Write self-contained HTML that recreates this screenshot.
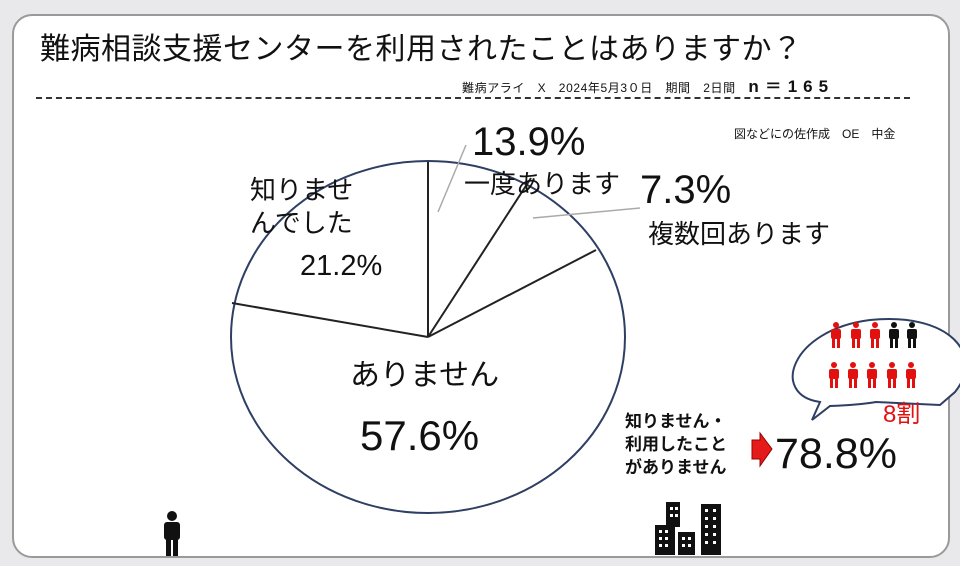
<!DOCTYPE html>
<html><head><meta charset="utf-8"><style>
body{margin:0;width:960px;height:566px;background:#e9e9ec;position:relative;overflow:hidden;font-family:"Liberation Sans","Noto Sans CJK JP",sans-serif;}
.p{position:absolute;left:12px;top:14px;width:934px;height:540px;background:#fff;border:2px solid #9a9a9a;border-radius:20px;}
.t{position:absolute;white-space:nowrap;color:#111;}
</style></head><body>
<div class="p"></div>
<div class="t" style="left:40px;top:24px;font-size:30px;letter-spacing:0.5px;">難病相談支援センターを利用されたことはありますか？</div>
<div class="t" style="left:462px;top:72px;font-size:12px;letter-spacing:0.6px;">難病アライ　X　2024年5月3０日　期間　2日間　<b style="font-size:17px;letter-spacing:6px">n＝165</b></div>
<div style="position:absolute;left:36px;top:97px;width:874px;border-top:2px dashed #333;"></div>
<div class="t" style="left:734px;top:125px;font-size:12px;">図などにの佐作成　OE　中金</div>
<svg width="960" height="566" style="position:absolute;left:0;top:0">
<ellipse cx="428" cy="337" rx="197" ry="176" fill="none" stroke="#2e3f63" stroke-width="2"/>
<g stroke="#222" stroke-width="2">
<line x1="428" y1="337" x2="428" y2="162"/>
<line x1="428" y1="337" x2="531" y2="178"/>
<line x1="428" y1="337" x2="596" y2="250"/>
<line x1="428" y1="337" x2="232" y2="303"/>
</g>
<g stroke="#aaa" stroke-width="1.5">
<line x1="438" y1="212" x2="466" y2="145"/>
<line x1="533" y1="218" x2="640" y2="208"/>
</g>
<path d="M820 402 C770 395 790 330 870 320 C950 312 985 355 955 392 L940 405 L876 402 Q858 405 830 406 L812 420 Z" fill="#fff" stroke="#2e3f63" stroke-width="2"/>
<path d="M752 440 L760 440 L760 433 L772 449 L760 466 L760 459 L752 459 Z" fill="#e51b1b" stroke="#900" stroke-width="1"/>
<g fill="#111">
<circle cx="172" cy="516" r="5"/><rect x="164" y="522" width="16" height="18" rx="3"/><rect x="166" y="538" width="5" height="18"/><rect x="173" y="538" width="5" height="18"/>
<rect x="655" y="525" width="20" height="30"/><rect x="666" y="502" width="14" height="25"/><rect x="678" y="532" width="17" height="23"/><rect x="701" y="504" width="20" height="51"/>
</g>
<g fill="#fff">
<rect x="670" y="507" width="3" height="3"/><rect x="675" y="507" width="3" height="3"/><rect x="670" y="514" width="3" height="3"/><rect x="675" y="514" width="3" height="3"/>
<rect x="659" y="530" width="3" height="3"/><rect x="665" y="530" width="3" height="3"/><rect x="659" y="537" width="3" height="3"/><rect x="665" y="537" width="3" height="3"/><rect x="659" y="544" width="3" height="3"/><rect x="665" y="544" width="3" height="3"/>
<rect x="682" y="537" width="3" height="3"/><rect x="688" y="537" width="3" height="3"/><rect x="682" y="544" width="3" height="3"/><rect x="688" y="544" width="3" height="3"/>
<rect x="705" y="509" width="3" height="3"/><rect x="713" y="509" width="3" height="3"/><rect x="705" y="517" width="3" height="3"/><rect x="713" y="517" width="3" height="3"/><rect x="705" y="525" width="3" height="3"/><rect x="713" y="525" width="3" height="3"/><rect x="705" y="533" width="3" height="3"/><rect x="713" y="533" width="3" height="3"/><rect x="705" y="541" width="3" height="3"/><rect x="713" y="541" width="3" height="3"/>
</g>
<g fill="#e31010"><g transform="translate(836,322)"><circle cx="0" cy="3" r="3"/><rect x="-5" y="7" width="10" height="10" rx="2"/><rect x="-4" y="16" width="3" height="10"/><rect x="1" y="16" width="3" height="10"/></g>
<g transform="translate(856,322)"><circle cx="0" cy="3" r="3"/><rect x="-5" y="7" width="10" height="10" rx="2"/><rect x="-4" y="16" width="3" height="10"/><rect x="1" y="16" width="3" height="10"/></g>
<g transform="translate(875,322)"><circle cx="0" cy="3" r="3"/><rect x="-5" y="7" width="10" height="10" rx="2"/><rect x="-4" y="16" width="3" height="10"/><rect x="1" y="16" width="3" height="10"/></g>
<g transform="translate(834,362)"><circle cx="0" cy="3" r="3"/><rect x="-5" y="7" width="10" height="10" rx="2"/><rect x="-4" y="16" width="3" height="10"/><rect x="1" y="16" width="3" height="10"/></g>
<g transform="translate(853,362)"><circle cx="0" cy="3" r="3"/><rect x="-5" y="7" width="10" height="10" rx="2"/><rect x="-4" y="16" width="3" height="10"/><rect x="1" y="16" width="3" height="10"/></g>
<g transform="translate(872,362)"><circle cx="0" cy="3" r="3"/><rect x="-5" y="7" width="10" height="10" rx="2"/><rect x="-4" y="16" width="3" height="10"/><rect x="1" y="16" width="3" height="10"/></g>
<g transform="translate(892,362)"><circle cx="0" cy="3" r="3"/><rect x="-5" y="7" width="10" height="10" rx="2"/><rect x="-4" y="16" width="3" height="10"/><rect x="1" y="16" width="3" height="10"/></g>
<g transform="translate(911,362)"><circle cx="0" cy="3" r="3"/><rect x="-5" y="7" width="10" height="10" rx="2"/><rect x="-4" y="16" width="3" height="10"/><rect x="1" y="16" width="3" height="10"/></g></g>
<g fill="#111"><g transform="translate(894,322)"><circle cx="0" cy="3" r="3"/><rect x="-5" y="7" width="10" height="10" rx="2"/><rect x="-4" y="16" width="3" height="10"/><rect x="1" y="16" width="3" height="10"/></g>
<g transform="translate(912,322)"><circle cx="0" cy="3" r="3"/><rect x="-5" y="7" width="10" height="10" rx="2"/><rect x="-4" y="16" width="3" height="10"/><rect x="1" y="16" width="3" height="10"/></g></g>
</svg>
<div class="t" style="left:472px;top:120px;font-size:40px;">13.9%</div>
<div class="t" style="left:464px;top:164px;font-size:26px;">一度あります</div>
<div class="t" style="left:640px;top:168px;font-size:40px;">7.3%</div>
<div class="t" style="left:648px;top:214px;font-size:26px;">複数回あります</div>
<div class="t" style="left:250px;top:174px;font-size:26px;line-height:33px;">知りませ<br>んでした</div>
<div class="t" style="left:300px;top:250px;font-size:29px;">21.2%</div>
<div class="t" style="left:350px;top:350px;font-size:30px;">ありません</div>
<div class="t" style="left:360px;top:412px;font-size:42px;">57.6%</div>
<div class="t" style="left:625px;top:410px;font-size:17px;font-weight:bold;line-height:23px;">知りません・<br>利用したこと<br>がありません</div>
<div class="t" style="left:775px;top:430px;font-size:43px;">78.8%</div>
<div class="t" style="left:883px;top:394px;font-size:24px;color:#e31010;">8割</div>
</body></html>
